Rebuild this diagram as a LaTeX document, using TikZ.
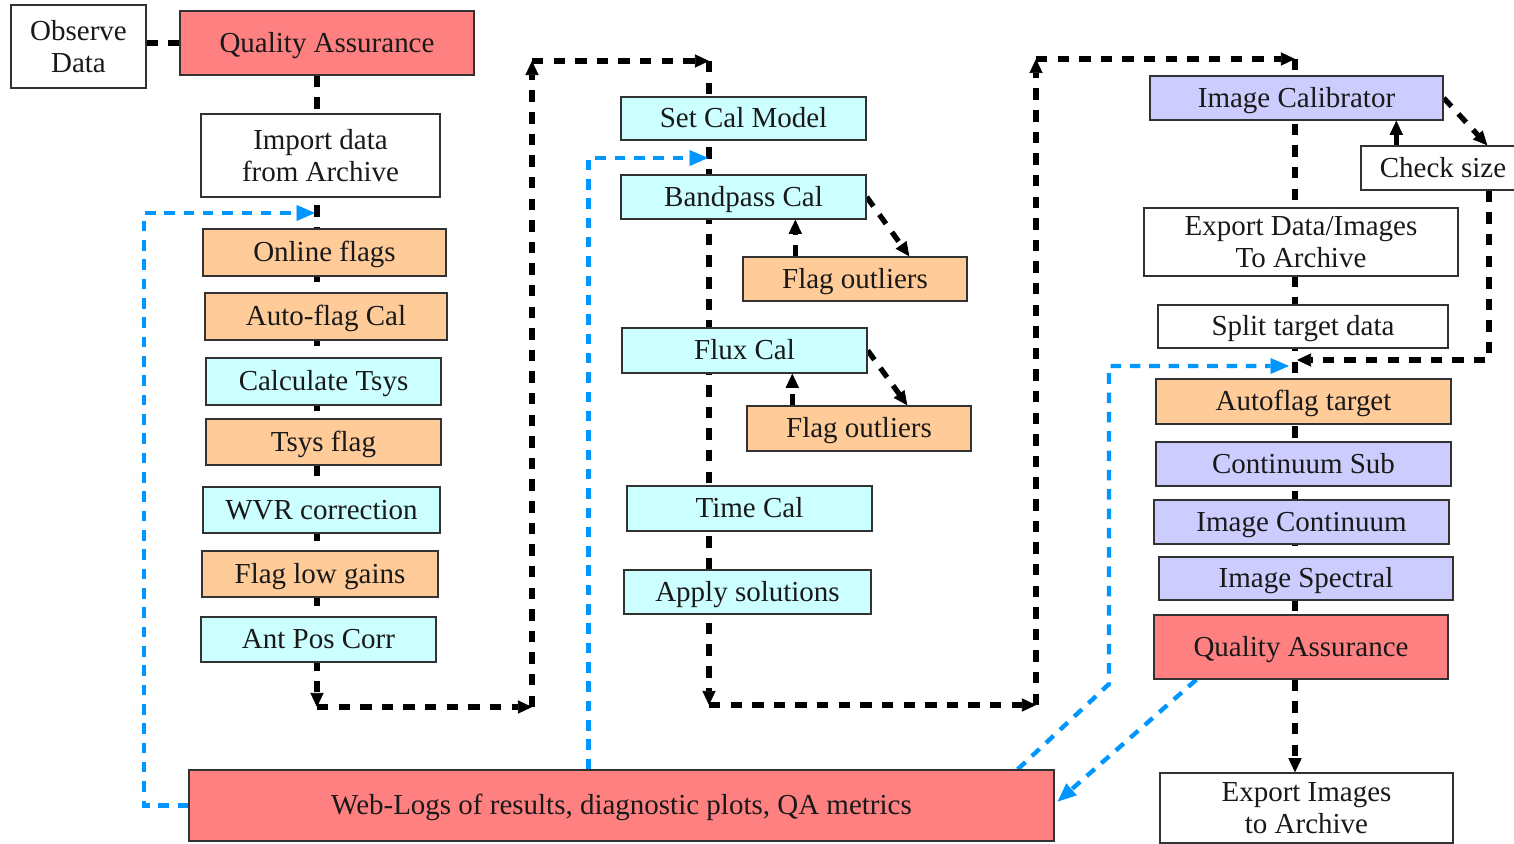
\documentclass[tikz,border=0pt]{standalone}
\usepackage{fontspec}
\setmainfont{Liberation Serif}
\usetikzlibrary{arrows.meta,calc}
\definecolor{qared}{RGB}{255,128,128}
\definecolor{flagorange}{RGB}{255,204,153}
\definecolor{calcyan}{RGB}{204,255,255}
\definecolor{imglilac}{RGB}{204,204,255}
\definecolor{logblue}{RGB}{0,150,255}
\definecolor{edge}{RGB}{50,50,50}
\pgfdeclarelayer{bg}
\pgfsetlayers{bg,main}
\tikzset{
  box/.style={draw=edge, line width=0.8pt, inner sep=0pt,
    font=\fontsize{16.5}{18.5}\selectfont, text=black!90,
    text height=14.5pt, text depth=4pt},
  twoline/.style={text height=, text depth=, align=center},
  plain/.style={box, fill=white},
  qa/.style={box, fill=qared},
  flagbox/.style={box, fill=flagorange},
  calbox/.style={box, fill=calcyan},
  imgbox/.style={box, fill=imglilac},
  flow/.style={line width=3pt, dash pattern=on 6.5pt off 5.8pt, black},
  flowtip/.style={flow, -{Triangle[length=8pt,width=7.5pt,line width=0.4pt]}},
  weblink/.style={line width=2.5pt, dash pattern=on 6pt off 5pt, logblue,
    -{Triangle[length=10.5pt,width=9pt,line width=0.4pt]}},
}
% box by its corner coordinates: style, name, x1, y1, x2, y2, text
\newcommand\bx[7]{\node[#1, minimum width={(#5-#3)*0.02cm}, minimum height={(#6-#4)*0.02cm}]
  (#2) at ({(#3+#5)/2},{(#4+#6)/2}) {#7};}
\begin{document}
\begin{tikzpicture}[x=0.02cm,y=-0.02cm]
\useasboundingbox (0,0) rectangle (1514,844);
\clip (0,0) rectangle (1514,844);

% first column: preparation
\bx{plain,twoline}{obs}{11}{5}{146}{88}{Observe\\Data}
\bx{qa}{qa1}{180}{11}{474}{75}{Quality Assurance}
\bx{plain,twoline}{imp}{201}{114}{440}{197}{Import data\\from Archive}
\bx{flagbox}{onl}{203}{229}{446}{276}{Online flags}
\bx{flagbox}{afc}{205}{293}{447}{340}{Auto-flag Cal}
\bx{calbox}{tsys}{206}{358}{441}{405}{Calculate Tsys}
\bx{flagbox}{tflag}{206}{419}{441}{465}{Tsys flag}
\bx{calbox}{wvr}{203}{487}{440}{533}{WVR correction}
\bx{flagbox}{flg}{202}{551}{438}{597}{Flag low gains}
\bx{calbox}{apc}{201}{617}{436}{662}{Ant Pos Corr}

% second column: calibration
\bx{calbox}{scm}{621}{97}{866}{140}{Set Cal Model}
\bx{calbox}{bp}{621}{175}{866}{219}{Bandpass Cal}
\bx{flagbox}{fo1}{743}{257}{967}{301}{Flag outliers}
\bx{calbox}{flux}{622}{328}{867}{373}{Flux Cal}
\bx{flagbox}{fo2}{747}{406}{971}{451}{Flag outliers}
\bx{calbox}{tcal}{627}{486}{872}{531}{Time Cal}
\bx{calbox}{app}{624}{570}{871}{614}{Apply solutions}

% third column: imaging
\bx{imgbox}{ical}{1150}{76}{1443}{120}{Image Calibrator}
\bx{plain}{chk}{1361}{146}{1525}{190}{Check size}
\bx{plain,twoline}{exp1}{1144}{208}{1458}{276}{Export Data/Images\\To Archive}
\bx{plain}{split}{1158}{305}{1448}{348}{Split target data}
\bx{flagbox}{aft}{1156}{379}{1451}{424}{Autoflag target}
\bx{imgbox}{csub}{1156}{442}{1451}{486}{Continuum Sub}
\bx{imgbox}{icont}{1154}{500}{1449}{544}{Image Continuum}
\bx{imgbox}{ispec}{1159}{557}{1453}{600}{Image Spectral}
\bx{qa}{qa2}{1154}{615}{1448}{679}{Quality Assurance}
\bx{plain,twoline}{exp2}{1160}{773}{1453}{843}{Export Images\\to Archive}

% web logs
\bx{qa}{web}{189}{770}{1054}{841}{Web-Logs of results, diagnostic plots, QA metrics}

% routing points
\coordinate (c1) at (317,0);
\coordinate (c3) at (1295,0);
\coordinate (k1) at (317,707);
\coordinate (k2) at (532,707);
\coordinate (k3) at (532,61);
\coordinate (k4) at (709,61);
\coordinate (k5) at (709,705);
\coordinate (k6) at (1036,705);
\coordinate (k7) at (1036,59);
\coordinate (k8) at (1295,59);
\coordinate (cs) at (1489,0);
\coordinate (r3) at (1297,360);
\coordinate (j1) at (315,213);
\coordinate (j2) at (708,158);
\coordinate (j3) at (1289,366);
\coordinate (b1) at (144,213);
\coordinate (b3) at (1109,684);

\begin{pgfonlayer}{bg}
\fill[white] (0,0) rectangle (1514,844);
% main processing chain
\draw[flow] (obs.east |- qa1.west) -- (qa1.west);
\draw[flowtip] (qa1.south -| c1) -- (k1);
\draw[flowtip] (k1) -- (k2);
\draw[flowtip] (k2) -- (k3);
\draw[flowtip] (k3) -- (k4);
\draw[flowtip] (k4) -- (k5);
\draw[flowtip] (k5) -- (k6);
\draw[flowtip] (k6) -- (k7);
\draw[flowtip] (k7) -- (k8);
\draw[flow] (k8) -- (qa2.south -| c3);
\draw[flowtip] (qa2.south -| c3) -- (exp2.north -| c3);
% flagging loops
\draw[flowtip] (bp.east) -- ($(fo1.north west)+(167,0)$);
\draw[flowtip] ($(fo1.north west)+(53,0)$) -- ($(bp.south west)+(175,0)$);
\draw[flowtip] (flux.east) -- ($(fo2.north west)+(161,0)$);
\draw[flowtip] ($(fo2.north west)+(46,0)$) -- ($(flux.south west)+(171,0)$);
\draw[flowtip] (ical.east) -- ($(chk.north west)+(127,0)$);
\draw[flowtip] ($(chk.north west)+(36,0)$) -- ($(ical.south west)+(247,0)$);
\draw[flowtip] (chk.south -| cs) |- (r3);
% web log links
\draw[weblink] (web.west) -| (b1) -- (j1);
\draw[weblink] ($(web.north west)+(400,0)$) |- (j2);
\draw[weblink] ($(web.north east)+(-37,0)$) -- (b3) |- (j3);
\draw[weblink] ($(qa2.south west)+(43,0)$) -- ($(web.east)+(3,-4)$);
\end{pgfonlayer}
\end{tikzpicture}
\end{document}
